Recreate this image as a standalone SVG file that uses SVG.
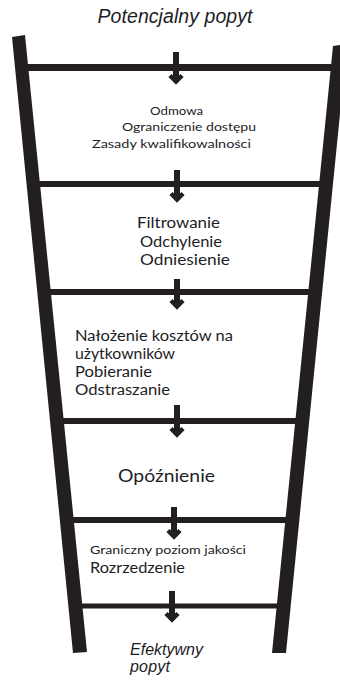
<svg xmlns="http://www.w3.org/2000/svg" width="340" height="680" viewBox="0 0 340 680">
<style>
.pole{fill:#231f20}
.rung{stroke:#231f20;fill:none}
.arrow{stroke:#231f20;stroke-width:6;fill:none;marker-end:url(#head)}
.t{font-family:Lato,"Liberation Sans",sans-serif;fill:#1d1d26}
.it{font-family:"Liberation Sans",Arial,sans-serif;font-style:italic;fill:#1d1d26}
</style>
<defs>
<marker id="head" markerUnits="userSpaceOnUse" orient="0" refX="0" refY="-3" overflow="visible">
<path d="M-6,-9.5 L0,-3.5 L6,-9.5" stroke="#231f20" stroke-width="4.5" fill="none" stroke-linejoin="miter"/>
</marker>
</defs>
<rect width="340" height="680" fill="#fff"/>
<g id="ladder">
<line class="rung" x1="20" y1="67.5" x2="336" y2="67.5" stroke-width="7"/>
<line class="rung" x1="30" y1="184" x2="326" y2="184" stroke-width="6"/>
<line class="rung" x1="42" y1="292" x2="316" y2="292" stroke-width="6"/>
<line class="rung" x1="55" y1="421" x2="303" y2="421" stroke-width="6"/>
<line class="rung" x1="64" y1="520" x2="293" y2="520" stroke-width="6"/>
<line class="rung" x1="72" y1="606" x2="285" y2="606" stroke-width="5"/>
<polygon class="pole" points="12,37 25,35 87,652 73,653"/>
<polygon class="pole" points="333,46 347,44 286,653 272,653"/>
</g>
<g id="connectors">
<path class="arrow" d="M176 52 V82"/>
<path class="arrow" d="M177 170 V200"/>
<path class="arrow" d="M177 279 V307"/>
<path class="arrow" d="M177 405 V435"/>
<path class="arrow" d="M174 507 V537"/>
<path class="arrow" d="M172 591 V620"/>
</g>
<g id="potential">
<text class="it" x="175" y="23" font-size="19.5" text-anchor="middle" textLength="155">Potencjalny popyt</text>
</g>
<g id="stage1">
<text class="t" x="150" y="115" font-size="11.5" textLength="53" lengthAdjust="spacingAndGlyphs">Odmowa</text>
<text class="t" x="122" y="131" font-size="11.5" textLength="134" lengthAdjust="spacingAndGlyphs">Ograniczenie dostępu</text>
<text class="t" x="92" y="148" font-size="11.5" textLength="159" lengthAdjust="spacingAndGlyphs">Zasady kwalifikowalności</text>
</g>
<g id="stage2">
<text class="t" x="137" y="228" font-size="14.5" textLength="83" lengthAdjust="spacingAndGlyphs">Filtrowanie</text>
<text class="t" x="140" y="247" font-size="14.5" textLength="82" lengthAdjust="spacingAndGlyphs">Odchylenie</text>
<text class="t" x="140" y="265" font-size="14.5" textLength="90" lengthAdjust="spacingAndGlyphs">Odniesienie</text>
</g>
<g id="stage3">
<text class="t" x="75" y="341" font-size="14.5" textLength="158" lengthAdjust="spacingAndGlyphs">Nałożenie kosztów na</text>
<text class="t" x="75" y="359" font-size="14.5" textLength="100" lengthAdjust="spacingAndGlyphs">użytkowników</text>
<text class="t" x="75" y="377" font-size="14.5" textLength="77" lengthAdjust="spacingAndGlyphs">Pobieranie</text>
<text class="t" x="75" y="395" font-size="14.5" textLength="95" lengthAdjust="spacingAndGlyphs">Odstraszanie</text>
</g>
<g id="stage4">
<text class="t" x="118" y="482" font-size="18" textLength="97" lengthAdjust="spacingAndGlyphs">Opóźnienie</text>
</g>
<g id="stage5">
<text class="t" x="90" y="554" font-size="11.5" textLength="156" lengthAdjust="spacingAndGlyphs">Graniczny poziom jakości</text>
<text class="t" x="90" y="573" font-size="14.5" textLength="95" lengthAdjust="spacingAndGlyphs">Rozrzedzenie</text>
</g>
<g id="effective">
<text class="it" x="130" y="655" font-size="16" textLength="73">Efektywny</text>
<text class="it" x="130" y="672" font-size="16" textLength="40">popyt</text>
</g>
</svg>
